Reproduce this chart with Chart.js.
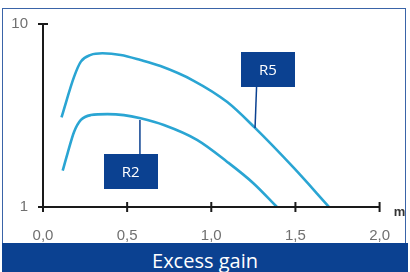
<!DOCTYPE html>
<html>
<head>
<meta charset="utf-8">
<script src="https://cdn.jsdelivr.net/npm/chart.js@4"></script>
<style>
  html, body { margin: 0; padding: 0; background: #fff; }
  #wrap { position: relative; width: 410px; height: 272px; overflow: hidden; background: #fff; }
  #frame { position: absolute; left: 2px; top: 8px; width: 404px; height: 236px; border: 1px solid #3a64a8; box-sizing: border-box; }
  #banner { position: absolute; left: 2px; top: 243px; width: 406px; height: 29px; background: #0b4191;
            color: #fff; font-family: "Open Sans", sans-serif; font-size: 20px; line-height: 29px; text-align: center; padding-top: 3px; box-sizing: border-box; }
  canvas { position: absolute; left: 0; top: 0; }
</style>
</head>
<body>
<div id="wrap">
  <div id="frame"></div>
  <canvas id="c" width="410" height="272"></canvas>
  <div id="banner">Excess gain</div>
</div>
<script>
// ---- data ----
const r5X = [0.11, 0.185, 0.225, 0.284, 0.353, 0.462, 0.58, 0.698, 0.893, 1.095, 1.26, 1.485, 1.70];
const r5Y = [5.41, 7.41, 8.15, 8.48, 8.56, 8.48, 8.23, 7.93, 7.22, 6.16, 4.89, 2.97, 1.0];
const r2X = [0.117, 0.146, 0.185, 0.225, 0.284, 0.383, 0.481, 0.58, 0.718, 0.915, 1.093, 1.25, 1.39];
const r2Y = [2.79, 3.64, 4.70, 5.28, 5.52, 5.57, 5.52, 5.36, 5.03, 4.30, 3.23, 2.17, 1.0];
const seriesNames = ['R5', 'R2'];
const xTickValues = [0, 0.5, 1.0, 1.5, 2.0];
const xTickLabels = ['0,0', '0,5', '1,0', '1,5', '2,0'];
const yTickValues = [1, 10];
const yTickLabels = ['1', '10'];
const xUnit = 'm';

// label boxes (data coordinates of box centre and leader end on curve)
const callouts = [
  { text: seriesNames[0], bx: 1.337, by: 7.76, lx0: 1.269, lx1: 1.26, ly: 4.89, dir: 'down' },
  { text: seriesNames[1], bx: 0.521, by: 2.75, lx0: 0.576, lx1: 0.576, ly: 5.28, dir: 'up' }
];

const toPts = (xs, ys) => xs.map((x, i) => ({ x: x, y: ys[i] }));
const curveColor = '#2aa5d3';
const navy = '#0b4191';

const decor = {
  id: 'decor',
  afterDraw(chart) {
    const ctx = chart.ctx, xs = chart.scales.x, ys = chart.scales.y;
    const x0 = xs.getPixelForValue(0), x2 = xs.getPixelForValue(2);
    const yb = ys.getPixelForValue(1), yt = ys.getPixelForValue(10);
    ctx.save();
    ctx.strokeStyle = '#1a1a1a';
    ctx.lineWidth = 2;
    ctx.lineCap = 'butt';
    // x axis
    ctx.beginPath(); ctx.moveTo(x0 - 5, yb); ctx.lineTo(x2, yb); ctx.stroke();
    xTickValues.forEach(v => {
      const px = xs.getPixelForValue(v);
      if (v === 0) return;
      ctx.beginPath(); ctx.moveTo(px, yb - 5); ctx.lineTo(px, yb + 5); ctx.stroke();
    });
    // y axis
    ctx.beginPath(); ctx.moveTo(x0, yb + 5); ctx.lineTo(x0, yt); ctx.stroke();
    ctx.beginPath(); ctx.moveTo(x0 - 5, yt); ctx.lineTo(x0 + 5, yt); ctx.stroke();
    // unit
    ctx.fillStyle = '#333';
    ctx.font = 'bold 13px "Liberation Sans", Arial, sans-serif';
    ctx.textAlign = 'center'; ctx.textBaseline = 'middle';
    ctx.fillText(xUnit, x2 + 20, yb + 5);
    // callouts
    const bw = 54, bh = 35;
    callouts.forEach(c => {
      const cx = xs.getPixelForValue(c.bx), cy = ys.getPixelForValue(c.by);
      const ex = xs.getPixelForValue(c.lx1), ey = ys.getPixelForValue(c.ly);
      const sx = xs.getPixelForValue(c.lx0);
      const sy = c.dir === 'down' ? cy + bh / 2 : cy - bh / 2;
      ctx.strokeStyle = navy; ctx.lineWidth = 1.5;
      ctx.beginPath(); ctx.moveTo(sx, sy); ctx.lineTo(ex, ey); ctx.stroke();
      ctx.fillStyle = navy;
      ctx.fillRect(Math.round(cx - bw / 2), Math.round(cy - bh / 2), bw, bh);
      ctx.fillStyle = '#fff';
      ctx.font = '15px "Open Sans", sans-serif';
      ctx.textAlign = 'center'; ctx.textBaseline = 'middle';
      ctx.fillText(c.text, cx, cy + 1);
    });
    ctx.restore();
  }
};

new Chart(document.getElementById('c'), {
  type: 'line',
  data: {
    datasets: [
      { label: seriesNames[0], data: toPts(r5X, r5Y), borderColor: curveColor, borderWidth: 2.6, pointRadius: 0, cubicInterpolationMode: 'monotone', fill: false },
      { label: seriesNames[1], data: toPts(r2X, r2Y), borderColor: curveColor, borderWidth: 2.6, pointRadius: 0, cubicInterpolationMode: 'monotone', fill: false }
    ]
  },
  options: {
    responsive: false,
    animation: false,
    layout: { padding: { top: 24, right: 30, bottom: 0, left: 0 } },
    plugins: { legend: { display: false }, tooltip: { enabled: false } },
    scales: {
      x: {
        type: 'linear', min: 0, max: 2,
        grid: { display: false, drawTicks: false },
        border: { display: false },
        afterBuildTicks: s => { s.ticks = xTickValues.map(v => ({ value: v })); },
        afterFit: s => { s.height = 65; },
        ticks: {
          padding: 20, color: '#707070', maxRotation: 0, autoSkip: false,
          font: { family: '"Liberation Sans", Arial, sans-serif', size: 15 },
          callback: (v, i) => xTickLabels[i]
        }
      },
      y: {
        type: 'linear', min: 1, max: 10,
        grid: { display: false, drawTicks: false },
        border: { display: false },
        afterBuildTicks: s => { s.ticks = yTickValues.map(v => ({ value: v })); },
        afterFit: s => { s.width = 43; },
        ticks: {
          padding: 15, color: '#707070', autoSkip: false,
          font: { family: '"Liberation Sans", Arial, sans-serif', size: 15 },
          callback: (v, i) => yTickLabels[i]
        }
      }
    }
  },
  plugins: [decor]
});
</script>
</body>
</html>
